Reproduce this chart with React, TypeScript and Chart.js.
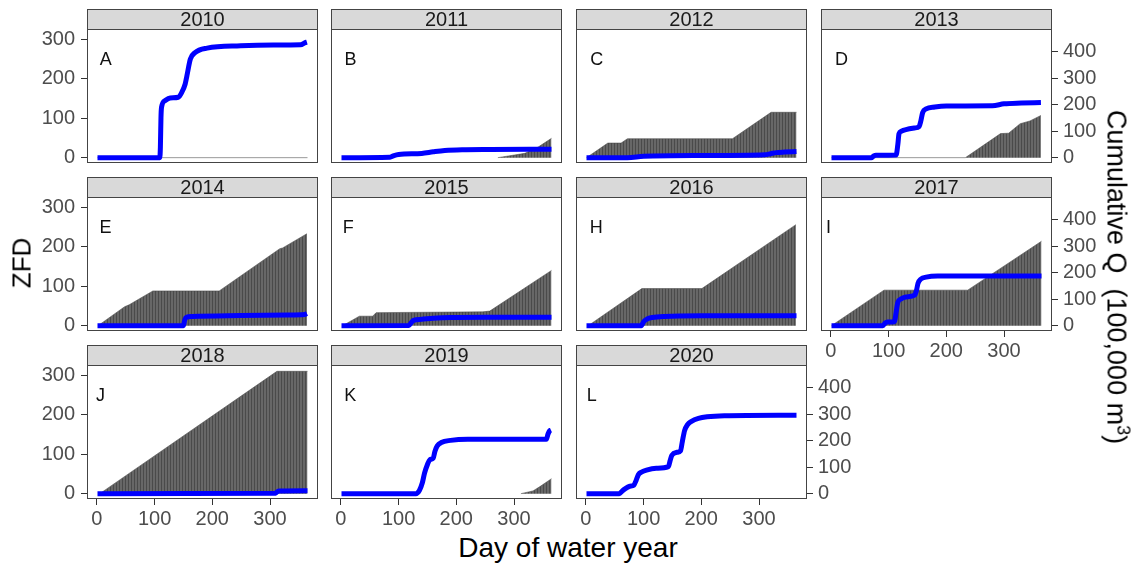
import React, { useEffect, useRef } from 'react';
import { Chart, registerables } from 'chart.js';

Chart.register(...registerables);

// ---------------- DATA ----------------
const years = ['2010', '2011', '2012', '2013', '2014', '2015', '2016', '2017', '2018', '2019', '2020'];
const panelLetters = ['A', 'B', 'C', 'D', 'E', 'F', 'H', 'I', 'J', 'K', 'L'];

const dayTicks = [0, 100, 200, 300];
const zfdTicks = [0, 100, 200, 300];
const qTicks = [0, 100, 200, 300, 400];

// ZFD (cumulative zero-flow days) breakpoints: [day of water year, ZFD]
const zfd2010 = [[1, 0], [365, 0]];
const zfd2011 = [[272, 0], [319, 11], [342, 27], [365, 49]];
const zfd2012 = [[1, 0], [38, 37], [61, 37], [72, 48], [254, 48], [321, 115], [365, 115]];
const zfd2013 = [[1, 0], [233, 0], [294, 61], [308, 62], [328, 86], [345, 93], [364, 107]];
const zfd2014 = [[2, 0], [48, 48], [56, 53], [97, 88], [212, 88], [317, 195], [322, 197], [364, 233]];
const zfd2015 = [[3, 0], [32, 24], [55, 24], [61, 33], [246, 35], [258, 37], [365, 140]];
const zfd2016 = [[4, 0], [97, 94], [201, 94], [364, 256]];
const zfd2017 = [[1, 0], [92, 90], [237, 90], [365, 214]];
const zfd2018 = [[5, 0], [312, 310], [365, 310]];
const zfd2019 = [[312, 0], [333, 7], [345, 18], [365, 38]];
const zfd2020: number[][] = [];

// Cumulative Q (100,000 m3): [day of water year, Q]
const q2010 = [[1, 0], [109, 0], [110, 40], [111, 150], [112, 190], [118, 215], [127, 225], [141, 228], [147, 246], [153, 278], [156, 309], [162, 372], [170, 396], [191, 413], [249, 422], [306, 425], [353, 426], [361, 434], [364, 436]];
const q2011 = [[1, 0], [85, 2], [92, 8], [100, 12], [140, 16], [160, 22], [180, 27], [210, 30], [260, 31], [365, 32]];
const q2012 = [[1, 0], [72, 0], [100, 5], [200, 8], [310, 11], [320, 15], [330, 19], [345, 21], [365, 23]];
const q2013 = [[1, 0], [70, 0], [74, 6], [78, 9], [113, 10], [116, 50], [118, 90], [122, 100], [130, 106], [145, 112], [153, 118], [156, 140], [159, 170], [165, 184], [180, 191], [200, 195], [280, 196], [300, 203], [330, 206], [364, 208]];
const q2014 = [[1, 0], [150, 0], [152, 20], [155, 32], [165, 35], [250, 38], [330, 40], [360, 42], [364, 46]];
const q2015 = [[1, 0], [118, 1], [122, 12], [126, 20], [140, 24], [160, 28], [190, 31], [250, 32], [365, 32]];
const q2016 = [[1, 0], [96, 0], [100, 15], [106, 25], [115, 31], [135, 35], [200, 37], [365, 37]];
const q2017 = [[1, 0], [90, 0], [94, 10], [98, 14], [110, 15], [113, 50], [116, 88], [121, 100], [130, 108], [145, 115], [148, 130], [151, 160], [156, 176], [165, 183], [185, 187], [365, 187]];
const q2018 = [[1, 0], [310, 2], [313, 8], [316, 10], [365, 11]];
const q2019 = [[1, 0], [130, 0], [136, 12], [141, 40], [145, 78], [150, 110], [154, 128], [160, 134], [163, 160], [167, 180], [174, 193], [190, 201], [220, 205], [356, 205], [359, 225], [362, 238], [364, 240]];
const q2020 = [[1, 0], [58, 0], [62, 8], [67, 17], [76, 28], [83, 32], [87, 50], [91, 72], [97, 82], [105, 89], [122, 96], [143, 102], [146, 125], [149, 145], [158, 156], [164, 162], [167, 195], [171, 238], [176, 260], [183, 273], [195, 284], [210, 290], [240, 294], [365, 296]];

const zfdByYear = [zfd2010, zfd2011, zfd2012, zfd2013, zfd2014, zfd2015, zfd2016, zfd2017, zfd2018, zfd2019, zfd2020];
const qByYear = [q2010, q2011, q2012, q2013, q2014, q2015, q2016, q2017, q2018, q2019, q2020];

// ---------------- LAYOUT ----------------
const FONT = "'Liberation Sans', Arial, Helvetica, sans-serif";
const COL_LEFT = [87, 331, 576, 821];
const ROW_TOP = [9, 177, 345];
const PANEL_W = 231;
const STRIP_H = 20;
const PLOT_H = 134;
const M_LEFT = 60;
const M_RIGHT = 60;
const M_BOTTOM = 32;
const CW = M_LEFT + PANEL_W + M_RIGHT;
const CH = STRIP_H + PLOT_H + M_BOTTOM;

const DAY_MIN = -17.2;
const DAY_MAX = 383.2;
const ZFD_MIN = -13.5;
const ZFD_MAX = 326;
const Q_RATIO = 1.4886;

const LETTER_DX = [18.7, 19.5, 20.7, 20.5, 18.5, 17.3, 20.3, 7.5, 13.5, 19.3, 15.7];

function makeStripes(ctx: CanvasRenderingContext2D) {
  const c = document.createElement('canvas');
  c.width = 3;
  c.height = 1;
  const g = c.getContext('2d')!;
  g.fillStyle = '#676767';
  g.fillRect(0, 0, 3, 1);
  g.fillStyle = '#4a4a4a';
  g.fillRect(2, 0, 1, 1);
  return ctx.createPattern(c, 'repeat');
}

function Panel({ idx }: { idx: number }) {
  const ref = useRef<HTMLCanvasElement>(null);
  const row = Math.floor(idx / 4);
  const col = idx % 4;
  const showLeft = col === 0;
  const showRight = idx === 3 || idx === 7 || idx === 10;
  const showBottom = row === 2 || idx === 7;

  useEffect(() => {
    const canvas = ref.current!;
    const ctx = canvas.getContext('2d')!;
    const pattern = makeStripes(ctx);
    const tickFont = { family: FONT, size: 20 };
    const datasets: any[] = [
      {
        label: 'Cumulative Q',
        data: qByYear[idx].map(([x, y]) => ({ x, y })),
        yAxisID: 'y1',
        borderColor: '#0000ff',
        borderWidth: 5,
        pointRadius: 0,
        fill: false,
        cubicInterpolationMode: 'monotone',
        order: 0,
      },
    ];
    if (zfdByYear[idx].length) {
      datasets.push({
        label: 'ZFD',
        data: zfdByYear[idx].map(([x, y]) => ({ x, y })),
        yAxisID: 'y',
        borderColor: 'rgba(70,70,70,0.55)',
        borderWidth: 1,
        backgroundColor: pattern,
        fill: 'origin',
        pointRadius: 0,
        tension: 0,
        order: 1,
      });
    }

    const deco = {
      id: 'deco',
      afterDraw(chart: any) {
        const { ctx: c, chartArea } = chart;
        const { left, top, right, bottom } = chartArea;
        const w = right - left;
        c.save();
        // letter
        c.fillStyle = '#111';
        c.font = `18px ${FONT}`;
        c.textAlign = 'center';
        c.textBaseline = 'middle';
        c.fillText(panelLetters[idx], left + LETTER_DX[idx], top + 31);
        // panel border
        c.strokeStyle = '#444';
        c.lineWidth = 1;
        c.strokeRect(left + 0.5, top + 0.5, w - 1, bottom - top - 1);
        // strip
        c.fillStyle = '#d9d9d9';
        c.fillRect(left, top - STRIP_H, w, STRIP_H);
        c.strokeRect(left + 0.5, top - STRIP_H + 0.5, w - 1, STRIP_H);
        c.fillStyle = '#1a1a1a';
        c.font = `20px ${FONT}`;
        c.fillText(years[idx], left + w / 2, top - STRIP_H / 2 + 1);
        c.restore();
      },
    };

    const chart = new Chart(canvas, {
      type: 'line',
      data: { datasets },
      options: {
        animation: false,
        responsive: false,
        maintainAspectRatio: false,
        devicePixelRatio: 1,
        events: [],
        layout: { padding: { top: STRIP_H, left: 0, right: 0, bottom: 0 } },
        plugins: { legend: { display: false }, tooltip: { enabled: false }, title: { display: false } },
        scales: {
          x: {
            type: 'linear',
            min: DAY_MIN,
            max: DAY_MAX,
            afterFit: (s: any) => { s.height = M_BOTTOM; },
            afterBuildTicks: (s: any) => { s.ticks = dayTicks.map((v) => ({ value: v })); },
            ticks: { display: showBottom, font: tickFont, color: '#4d4d4d', padding: 2, maxRotation: 0, autoSkip: false },
            grid: { display: showBottom, drawOnChartArea: false, drawTicks: true, tickLength: 6, color: '#333' },
            border: { display: false },
          },
          y: {
            type: 'linear',
            position: 'left',
            min: ZFD_MIN,
            max: ZFD_MAX,
            afterFit: (s: any) => { s.width = M_LEFT; },
            afterBuildTicks: (s: any) => { s.ticks = zfdTicks.map((v) => ({ value: v })); },
            ticks: { display: showLeft, font: tickFont, color: '#4d4d4d', padding: 6, autoSkip: false },
            grid: { display: showLeft, drawOnChartArea: false, drawTicks: true, tickLength: 6, color: '#333' },
            border: { display: false },
          },
          y1: {
            type: 'linear',
            position: 'right',
            min: ZFD_MIN * Q_RATIO,
            max: ZFD_MAX * Q_RATIO,
            afterFit: (s: any) => { s.width = M_RIGHT; },
            afterBuildTicks: (s: any) => { s.ticks = qTicks.map((v) => ({ value: v })); },
            ticks: { display: showRight, font: tickFont, color: '#4d4d4d', padding: 5, autoSkip: false },
            grid: { display: showRight, drawOnChartArea: false, drawTicks: true, tickLength: 6, color: '#333' },
            border: { display: false },
          },
        },
      },
      plugins: [deco],
    } as any);
    return () => chart.destroy();
  }, [idx]);

  return (
    <canvas
      ref={ref}
      width={CW}
      height={CH}
      style={{ position: 'absolute', left: COL_LEFT[col] - M_LEFT, top: ROW_TOP[row], width: CW, height: CH }}
    />
  );
}

export default function App() {
  return (
    <div style={{ position: 'absolute', left: 0, top: 0, width: 1143, height: 564, background: '#fff', overflow: 'hidden', fontFamily: FONT }}>
      {years.map((_, i) => (
        <Panel key={i} idx={i} />
      ))}
      <div style={{ position: 'absolute', left: 22, top: 263, transform: 'translate(-50%, -50%) rotate(-90deg)', fontSize: 26, color: '#000', whiteSpace: 'nowrap' }}>
        ZFD
      </div>
      <div style={{ position: 'absolute', left: 568, top: 548, transform: 'translate(-50%, -50%)', fontSize: 28, color: '#000', whiteSpace: 'nowrap' }}>
        Day of water year
      </div>
      <div style={{ position: 'absolute', left: 1117, top: 277, transform: 'translate(-50%, -50%) rotate(90deg)', fontSize: 27, color: '#000', whiteSpace: 'nowrap' }}>
        Cumulative Q&nbsp; (100,000 m<sup style={{ fontSize: 18 }}>3</sup>)
      </div>
    </div>
  );
}
